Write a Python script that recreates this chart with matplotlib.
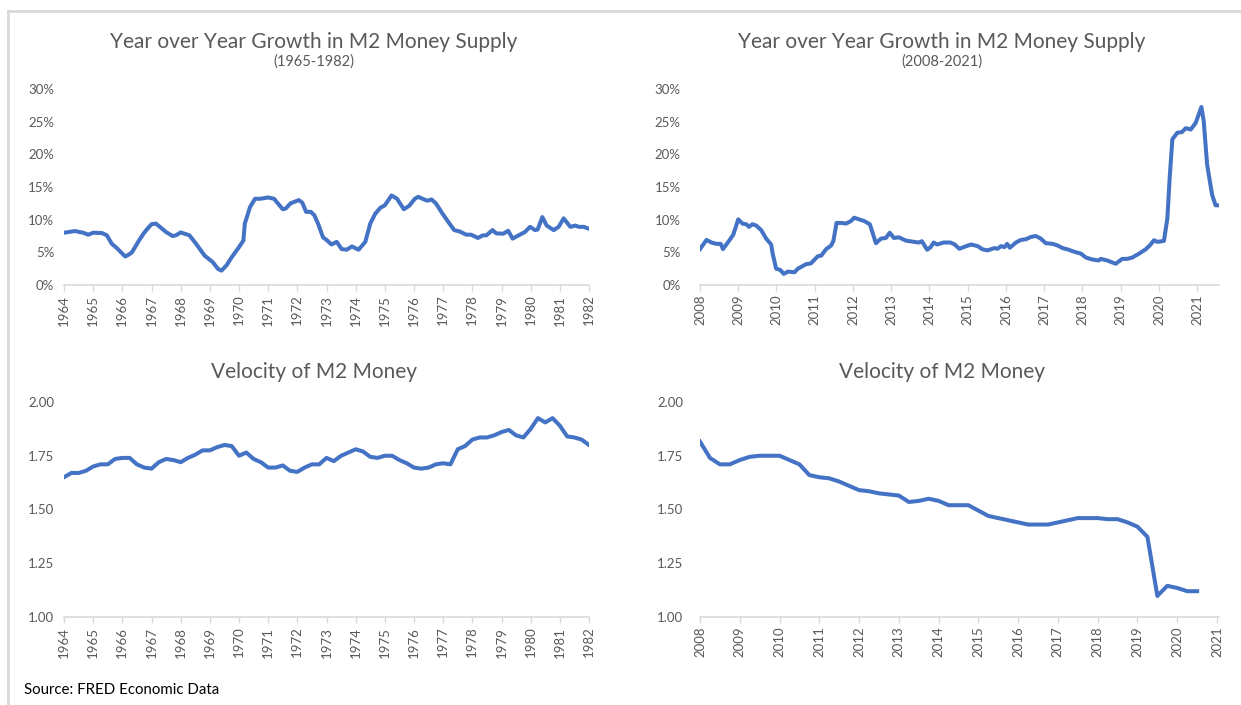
import matplotlib.pyplot as plt
from matplotlib.lines import Line2D

# --- data (decimal years) ---
yoy_early_years = [1964.0, 1964.37, 1964.66, 1964.83, 1965.0, 1965.3, 1965.47, 1965.64, 1965.8, 1966.0,
                   1966.1, 1966.2, 1966.33, 1966.57, 1966.74, 1966.86, 1967.0, 1967.15, 1967.26, 1967.5,
                   1967.72, 1967.84, 1968.0, 1968.3, 1968.53, 1968.82, 1969.1, 1969.28, 1969.4, 1969.57,
                   1969.75, 1970.0, 1970.15, 1970.2, 1970.38, 1970.55, 1970.73, 1971.0, 1971.2, 1971.5,
                   1971.6, 1971.77, 1972.05, 1972.17, 1972.3, 1972.46, 1972.58, 1972.71, 1972.88, 1973.0,
                   1973.17, 1973.35, 1973.52, 1973.69, 1973.87, 1974.1, 1974.33, 1974.5, 1974.67, 1974.84,
                   1975.0, 1975.23, 1975.42, 1975.65, 1975.83, 1976.03, 1976.15, 1976.29, 1976.46, 1976.6,
                   1976.75, 1976.98, 1977.2, 1977.38, 1977.56, 1977.79, 1977.96, 1978.19, 1978.36, 1978.48,
                   1978.69, 1978.82, 1979.06, 1979.23, 1979.38, 1979.63, 1979.8, 1979.98, 1980.15, 1980.24,
                   1980.4, 1980.55, 1980.79, 1980.96, 1981.13, 1981.36, 1981.53, 1981.65, 1981.82, 1982.0]
yoy_early_pct = [8.0, 8.26, 8.0, 7.7, 8.0, 7.95, 7.6, 6.3, 5.7, 4.8,
                 4.36, 4.6, 5.0, 6.8, 7.95, 8.6, 9.3, 9.4, 9.0, 8.1,
                 7.5, 7.6, 8.05, 7.6, 6.3, 4.5, 3.5, 2.46, 2.2, 3.0,
                 4.25, 5.8, 6.8, 9.4, 11.95, 13.2, 13.2, 13.4, 13.2, 11.6,
                 11.7, 12.5, 13.0, 12.6, 11.2, 11.2, 10.7, 9.4, 7.3, 6.9,
                 6.2, 6.6, 5.5, 5.4, 5.9, 5.4, 6.6, 9.4, 10.9, 11.8,
                 12.2, 13.7, 13.2, 11.6, 12.1, 13.2, 13.5, 13.2, 12.9, 13.1,
                 12.5, 10.9, 9.5, 8.4, 8.2, 7.7, 7.7, 7.2, 7.6, 7.6,
                 8.4, 7.9, 7.85, 8.3, 7.1, 7.7, 8.1, 8.9, 8.4, 8.5,
                 10.4, 9.1, 8.4, 8.9, 10.2, 8.9, 9.1, 8.9, 8.9, 8.6]

yoy_late_years = [2008.0, 2008.17, 2008.3, 2008.43, 2008.54, 2008.6, 2008.74, 2008.87, 2009.0, 2009.11,
                  2009.21, 2009.28, 2009.37, 2009.47, 2009.6, 2009.73, 2009.86, 2009.9, 2009.99, 2010.1,
                  2010.19, 2010.3, 2010.47, 2010.56, 2010.78, 2010.9, 2011.08, 2011.17, 2011.3, 2011.43,
                  2011.49, 2011.57, 2011.69, 2011.82, 2011.95, 2012.03, 2012.16, 2012.29, 2012.44, 2012.55,
                  2012.6, 2012.73, 2012.86, 2012.96, 2013.07, 2013.2, 2013.38, 2013.6, 2013.72, 2013.8,
                  2013.94, 2014.03, 2014.11, 2014.2, 2014.37, 2014.55, 2014.66, 2014.78, 2014.94, 2015.09,
                  2015.26, 2015.39, 2015.52, 2015.7, 2015.78, 2015.87, 2015.96, 2016.03, 2016.1, 2016.26,
                  2016.39, 2016.52, 2016.65, 2016.78, 2016.91, 2017.04, 2017.22, 2017.35, 2017.48, 2017.61,
                  2017.78, 2017.96, 2018.09, 2018.26, 2018.42, 2018.48, 2018.65, 2018.87, 2019.04, 2019.17,
                  2019.3, 2019.48, 2019.65, 2019.76, 2019.87, 2019.96, 2020.13, 2020.22, 2020.28, 2020.35,
                  2020.48, 2020.6, 2020.7, 2020.83, 2020.96, 2021.11, 2021.17, 2021.26, 2021.39, 2021.48,
                  2021.57]
yoy_late_pct = [5.5, 6.9, 6.5, 6.3, 6.3, 5.5, 6.6, 7.7, 10.05, 9.4,
                9.3, 8.9, 9.3, 9.1, 8.4, 7.1, 6.2, 4.8, 2.5, 2.3,
                1.7, 2.05, 1.95, 2.5, 3.2, 3.3, 4.4, 4.5, 5.5, 6.05,
                6.8, 9.5, 9.5, 9.4, 9.8, 10.3, 10.05, 9.8, 9.3, 7.3,
                6.4, 7.1, 7.2, 8.0, 7.2, 7.3, 6.8, 6.6, 6.5, 6.7,
                5.4, 5.8, 6.5, 6.2, 6.5, 6.5, 6.2, 5.55, 5.9, 6.2,
                5.95, 5.45, 5.3, 5.65, 5.55, 5.95, 5.8, 6.3, 5.7, 6.5,
                6.9, 7.0, 7.35, 7.5, 7.1, 6.4, 6.3, 6.05, 5.65, 5.45,
                5.1, 4.8, 4.2, 3.9, 3.75, 4.0, 3.75, 3.25, 4.0, 4.0,
                4.2, 4.8, 5.45, 6.05, 6.85, 6.6, 6.75, 10.2, 16.35, 22.3,
                23.3, 23.4, 24.0, 23.8, 24.8, 27.25, 25.1, 18.4, 13.8, 12.2,
                12.2]

# quarterly velocity, 1964Q1 .. 1982Q1
vel_early_start = 1964.0
vel_early = [1.65, 1.67, 1.67, 1.68, 1.70, 1.71, 1.71, 1.735, 1.74, 1.74, 1.71, 1.695, 1.69,
             1.72, 1.735, 1.73, 1.72, 1.74, 1.755, 1.775, 1.775, 1.79, 1.80, 1.795, 1.75,
             1.765, 1.735, 1.72, 1.695, 1.695, 1.705, 1.68, 1.675, 1.695, 1.71, 1.71, 1.74,
             1.725, 1.75, 1.765, 1.78, 1.77, 1.745, 1.74, 1.75, 1.75, 1.73, 1.715, 1.695,
             1.69, 1.695, 1.71, 1.715, 1.71, 1.78, 1.795, 1.825, 1.835, 1.835, 1.845, 1.86,
             1.87, 1.845, 1.835, 1.875, 1.925, 1.905, 1.925, 1.89, 1.84, 1.835, 1.825, 1.80]

# quarterly velocity, as plotted from 2008
vel_late_start = 2008.0
vel_late = [1.816, 1.74, 1.71, 1.71, 1.73, 1.745, 1.75, 1.75, 1.75, 1.73, 1.71, 1.66, 1.65,
            1.645, 1.63, 1.61, 1.59, 1.585, 1.575, 1.57, 1.565, 1.535, 1.54, 1.55, 1.54,
            1.52, 1.52, 1.52, 1.495, 1.47, 1.46, 1.45, 1.44, 1.43, 1.43, 1.43, 1.44,
            1.45, 1.46, 1.46, 1.46, 1.455, 1.455, 1.44, 1.42, 1.373, 1.098, 1.145, 1.135,
            1.12, 1.12]

pct_ticks = [0, 5, 10, 15, 20, 25, 30]
vel_ticks = [1.00, 1.25, 1.50, 1.75, 2.00]

BLUE = '#4472C4'
GRAY_TXT = '#595959'
GRAY_LN = '#D9D9D9'
W, H = 1241, 705

plt.rcParams['font.family'] = ['Lato', 'DejaVu Sans']

fig = plt.figure(figsize=(W / 100, H / 100), dpi=100)


def px_axes(x0, x1, y_top, y_bot):
    return fig.add_axes([x0 / W, 1 - y_bot / H, (x1 - x0) / W, (y_bot - y_top) / H])


def style(ax, years, ylabels, ypad):
    for s in ['top', 'right', 'left']:
        ax.spines[s].set_visible(False)
    ax.spines['bottom'].set_color(GRAY_LN)
    ax.spines['bottom'].set_linewidth(1.2)
    ax.set_xticks(years)
    ax.set_xticklabels([str(y) for y in years], rotation=90, fontsize=9.5, color=GRAY_TXT)
    ax.tick_params(axis='x', length=4, color=GRAY_LN, width=1, pad=3)
    ax.tick_params(axis='y', length=0, labelsize=9.5, labelcolor=GRAY_TXT, pad=ypad)
    ax.set_yticklabels(ylabels)


# top left: YoY growth 1964-1982
ax1 = px_axes(64, 589, 89, 285)
ax1.plot(yoy_early_years, yoy_early_pct, color=BLUE, lw=2.9, solid_joinstyle='round')
ax1.set_xlim(1964, 1982)
ax1.set_ylim(0, 30)
ax1.set_yticks(pct_ticks)
style(ax1, list(range(1964, 1983)), [f'{t}%' for t in pct_ticks], 7)

# top right: YoY growth 2008-2021
ax2 = px_axes(700, 1219, 89, 285)
ax2.plot(yoy_late_years, yoy_late_pct, color=BLUE, lw=2.9, solid_joinstyle='round')
ax2.set_xlim(2008, 2021.57)
ax2.set_ylim(0, 30)
ax2.set_yticks(pct_ticks)
style(ax2, list(range(2008, 2022)), [f'{t}%' for t in pct_ticks], 14)

# bottom left: velocity 1964-1982
ax3 = px_axes(64, 589, 402, 617)
x3 = [vel_early_start + i * 0.25 for i in range(len(vel_early))]
ax3.plot(x3, vel_early, color=BLUE, lw=2.9, solid_joinstyle='round')
ax3.set_xlim(1964, 1982)
ax3.set_ylim(1.0, 2.0)
ax3.set_yticks(vel_ticks)
style(ax3, list(range(1964, 1983)), [f'{t:.2f}' for t in vel_ticks], 7)

# bottom right: velocity 2008-2021
ax4 = px_axes(700, 1219, 402, 617)
x4 = [vel_late_start + i * 0.25 for i in range(len(vel_late))]
ax4.plot(x4, vel_late, color=BLUE, lw=2.9, solid_joinstyle='round')
ax4.set_xlim(2008, 2021.05)
ax4.set_ylim(1.0, 2.0)
ax4.set_yticks(vel_ticks)
style(ax4, list(range(2008, 2022)), [f'{t:.2f}' for t in vel_ticks], 12)

# titles
for cx in (314, 942):
    fig.text(cx / W, 1 - 42 / H, 'Year over Year Growth in M2 Money Supply',
             ha='center', va='center', fontsize=15, color=GRAY_TXT)
    fig.text(cx / W, 1 - 372 / H, 'Velocity of M2 Money',
             ha='center', va='center', fontsize=15, color=GRAY_TXT)
fig.text(314 / W, 1 - 62 / H, '(1965-1982)', ha='center', va='center', fontsize=10.5, color=GRAY_TXT)
fig.text(942 / W, 1 - 62 / H, '(2008-2021)', ha='center', va='center', fontsize=10.5, color=GRAY_TXT)

fig.text(24 / W, 1 - 690 / H, 'Source: FRED Economic Data', ha='left', va='center',
         fontsize=10.8, color='black')

# light frame on the top and left edges
fig.add_artist(Line2D([8 / W, 8 / W], [0, 1 - 11 / H], color=GRAY_LN, lw=2, transform=fig.transFigure))
fig.add_artist(Line2D([8 / W, 1], [1 - 11 / H, 1 - 11 / H], color=GRAY_LN, lw=2, transform=fig.transFigure))

fig.savefig('out.png', dpi=100)
